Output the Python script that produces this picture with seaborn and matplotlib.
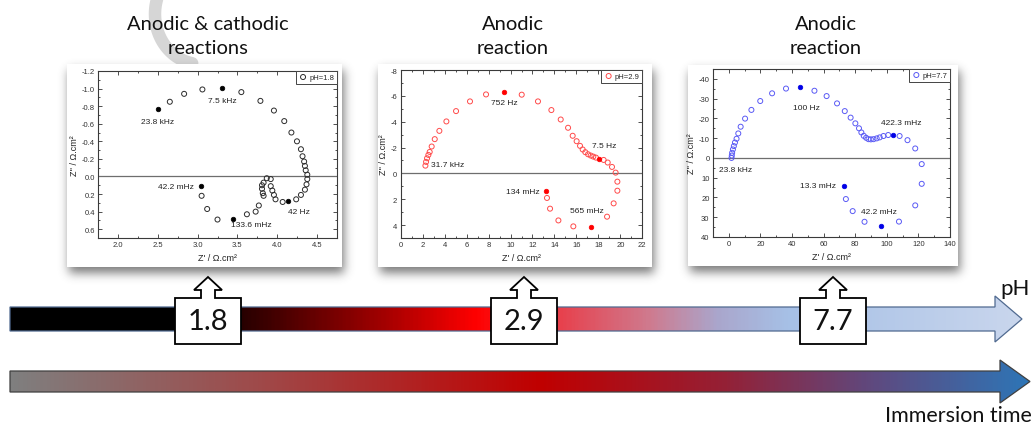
import numpy as np
import matplotlib.pyplot as plt
import seaborn as sns
from matplotlib.colors import LinearSegmentedColormap
from matplotlib.patches import Polygon, Rectangle
from matplotlib.ticker import MultipleLocator

sns.set_style("ticks")
plt.rcParams['font.family'] = ['Liberation Sans', 'DejaVu Sans']

#%%
# Data
titles = ["Anodic & cathodic\nreactions", "Anodic\nreaction", "Anodic\nreaction"]
ph_labels = ["1.8", "2.9", "7.7"]

# pH 1.8 - open symbols
ph18_re = [2.65, 2.83, 3.06, 3.55, 3.79, 3.96, 4.09, 4.18, 4.25, 4.30,
           4.32, 4.34, 4.35, 4.36, 4.38, 4.38, 4.37, 4.35, 4.30, 4.24,
           4.07, 3.98, 3.96, 3.94, 3.92, 3.92, 3.87, 3.83, 3.81, 3.81,
           3.82, 3.83, 3.77, 3.73, 3.62, 3.25, 3.12, 3.05]
ph18_im = [-0.85, -0.94, -0.99, -0.96, -0.86, -0.75, -0.63, -0.50, -0.40, -0.31,
           -0.23, -0.17, -0.12, -0.07, -0.02, 0.03, 0.09, 0.15, 0.21, 0.26,
           0.29, 0.26, 0.21, 0.16, 0.11, 0.03, 0.02, 0.07, 0.10, 0.14,
           0.19, 0.22, 0.33, 0.40, 0.43, 0.49, 0.37, 0.22]
# pH 1.8 - marked frequencies
ph18_mark_re = [2.50, 3.31, 4.14, 3.44, 3.04]
ph18_mark_im = [-0.77, -1.01, 0.28, 0.48, 0.11]
ph18_freq = ["23.8 kHz", "7.5 kHz", "42 Hz", "133.6 mHz", "42.2 mHz"]

# pH 2.9
ph29_re = [2.25, 2.31, 2.40, 2.52, 2.64, 2.82, 3.10, 3.52, 4.16, 5.04,
           6.31, 7.77, 11.02, 12.50, 13.72, 14.57, 15.24, 15.66, 16.02, 16.33,
           16.57, 16.81, 17.06, 17.30, 17.54, 17.78, 18.48, 18.85, 19.24, 19.57,
           19.73, 19.73, 19.39, 18.79, 15.72, 14.36, 13.60, 13.32]
ph29_im = [-0.60, -0.89, -1.17, -1.43, -1.66, -2.08, -2.65, -3.29, -4.02, -4.82,
           -5.57, -6.11, -6.09, -5.57, -4.90, -4.17, -3.53, -2.91, -2.49, -2.13,
           -1.85, -1.64, -1.48, -1.38, -1.30, -1.22, -1.04, -0.84, -0.50, -0.06,
           0.64, 1.34, 2.32, 3.35, 4.10, 3.64, 2.73, 1.90]
ph29_mark_re = [9.41, 18.09, 17.30, 13.26]
ph29_mark_im = [-6.27, -1.12, 4.18, 1.39]
ph29_freq = ["752 Hz", "7.5 Hz", "565 mHz", "134 mHz", "31.7 kHz"]

# pH 7.7
ph77_re = [1.7, 1.9, 2.1, 2.6, 3.2, 3.9, 4.9, 6.0, 7.5, 10.3,
           14.3, 19.9, 27.4, 36.2, 54.2, 61.9, 68.5, 73.4, 77.1, 80.1,
           82.4, 83.9, 85.4, 86.9, 88.4, 89.9, 91.6, 93.6, 95.5, 97.9,
           100.9, 108.1, 113.1, 118.0, 122.1, 122.1, 118.0, 107.7, 85.9, 78.4,
           74.1]
ph77_im = [0.0, -1.2, -2.6, -4.3, -6.0, -7.8, -9.7, -12.4, -15.8, -19.9,
           -24.3, -28.8, -32.7, -35.1, -34.0, -31.3, -27.6, -23.7, -20.4, -17.5,
           -15.0, -12.9, -11.2, -10.2, -9.5, -9.4, -9.5, -9.9, -10.4, -11.1,
           -11.6, -11.1, -9.0, -4.8, 3.1, 13.1, 24.0, 32.2, 32.3, 26.9,
           20.8]
ph77_mark_re = [45.0, 104.1, 96.1, 72.6]
ph77_mark_im = [-35.7, -11.6, 34.2, 14.0]
ph77_freq = ["100 Hz", "422.3 mHz", "42.2 mHz", "13.3 mHz", "23.8 kHz"]

#%%
# Layout of each panel (pixel boxes, axis ranges, label spots)
panels = [
    dict(re=ph18_re, im=ph18_im, mre=ph18_mark_re, mim=ph18_mark_im, freq=ph18_freq,
         box=(67, 65, 342, 268), ax=(98.3, 72, 336.7, 239),
         xlim=(1.75, 4.75), ylim=(0.7, -1.2), xmaj=0.5, xmin=0.25, ymaj=0.2, ymin=0.1,
         yfmt="{:.1f}", xfmt="{:.1f}", open_c="#2b2b2b", fill_c="#000000",
         spots=[(2.50, -0.625, "center"), (3.31, -0.86, "center"), (4.28, 0.40, "center"),
                (3.67, 0.55, "center"), (2.95, 0.11, "right")]),
    dict(re=ph29_re, im=ph29_im, mre=ph29_mark_re, mim=ph29_mark_im, freq=ph29_freq,
         box=(378, 65, 652, 268), ax=(400.7, 71, 642.3, 239),
         xlim=(0, 22), ylim=(5, -8), xmaj=2, xmin=1, ymaj=2, ymin=1,
         yfmt="{:.0f}", xfmt="{:.0f}", open_c="#ff4a4a", fill_c="#ff0000",
         spots=[(9.41, -5.49, "center"), (18.54, -2.13, "center"), (16.93, 2.91, "center"),
                (12.62, 1.44, "right"), (4.25, -0.66, "center")]),
    dict(re=ph77_re, im=ph77_im, mre=ph77_mark_re, mim=ph77_mark_im, freq=ph77_freq,
         box=(688, 66, 958, 267), ax=(713, 70, 950, 238),
         xlim=(-10, 140), ylim=(40, -45), xmaj=20, xmin=10, ymaj=10, ymin=5,
         yfmt="{:.0f}", xfmt="{:.0f}", open_c="#5a5af5", fill_c="#0000e6",
         spots=[(49.0, -25.5, "center"), (109.4, -17.7, "center"), (95.3, 27.1, "center"),
                (68.1, 14.0, "right"), (4.3, 5.8, "center")]),
]
title_x = [208, 513, 826]
callout_x = [208, 524, 833]

W, H = 1034, 431
fig = plt.figure(figsize=(W / 100, H / 100), dpi=100)
bg = fig.add_axes([0, 0, 1, 1])
bg.set_xlim(0, W)
bg.set_ylim(H, 0)
bg.axis("off")


def soft_shadow(x0, y0, x1, y1, dx=2, dy=6, sigma=5.0, alpha=0.65):
    pad = int(3 * sigma)
    w, h = int(x1 - x0), int(y1 - y0)
    mask = np.zeros((h + 2 * pad, w + 2 * pad))
    mask[pad:pad + h, pad:pad + w] = 1
    k = np.exp(-0.5 * (np.arange(-pad, pad + 1) / sigma) ** 2)
    k /= k.sum()
    mask = np.apply_along_axis(lambda r: np.convolve(r, k, mode="same"), 1, mask)
    mask = np.apply_along_axis(lambda c: np.convolve(c, k, mode="same"), 0, mask)
    rgba = np.zeros(mask.shape + (4,))
    rgba[..., :3] = 0.2
    rgba[..., 3] = mask * alpha
    bg.imshow(rgba, extent=(x0 - pad + dx, x1 + pad + dx, y1 + pad + dy, y0 - pad + dy),
              aspect="auto", zorder=1, interpolation="bilinear")


# faint grey arc left over from the slide
t = np.radians(np.linspace(100, 205, 60))
bg.plot(200 + 45 * np.cos(t), 15 + 50 * np.sin(t), color="#d6d6d6", lw=9,
        solid_capstyle="round", zorder=0.5)

for p, tx, title in zip(panels, title_x, titles):
    x0, y0, x1, y1 = p["box"]
    soft_shadow(x0, y0, x1, y1)
    bg.add_patch(Rectangle((x0, y0), x1 - x0, y1 - y0, fc="white", ec="none", zorder=1.5))
    bg.text(tx, 37, title, ha="center", va="center", fontsize=14.5, family="Lato",
            linespacing=1.5, color="#111111", zorder=3)

#%%
# The Nyquist plots
for i, p in enumerate(panels):
    ax_l, ax_t, ax_r, ax_b = p["ax"]
    ax = fig.add_axes([ax_l / W, 1 - ax_b / H, (ax_r - ax_l) / W, (ax_b - ax_t) / H])
    ax.set_facecolor("none")
    sns.scatterplot(x=p["re"], y=p["im"], ax=ax, marker="o", s=13, facecolor="none",
                    edgecolor=p["open_c"], linewidth=0.7, label="pH=" + ph_labels[i], zorder=3)
    sns.scatterplot(x=p["mre"], y=p["mim"], ax=ax, marker="o", s=11, color=p["fill_c"],
                    edgecolor=p["fill_c"], linewidth=0.5, zorder=4, legend=False)
    ax.axhline(0, color="#6e6e6e", lw=0.9, zorder=2)
    ax.set_xlim(*p["xlim"])
    ax.set_ylim(*p["ylim"])
    ax.xaxis.set_major_locator(MultipleLocator(p["xmaj"]))
    ax.xaxis.set_minor_locator(MultipleLocator(p["xmin"]))
    ax.yaxis.set_major_locator(MultipleLocator(p["ymaj"]))
    ax.yaxis.set_minor_locator(MultipleLocator(p["ymin"]))
    ax.tick_params(which="both", direction="in", top=True, right=True,
                   labelsize=5.5, labelcolor="#333333", color="#333333", width=0.6, pad=2.5)
    ax.tick_params(which="major", length=3)
    ax.tick_params(which="minor", length=1.5)
    ax.set_xticks(ax.get_xticks())
    ax.set_xticklabels([p["xfmt"].format(v) for v in ax.get_xticks()])
    ax.set_yticks(ax.get_yticks())
    ax.set_yticklabels([p["yfmt"].format(v) for v in ax.get_yticks()])
    ax.set_xlim(*p["xlim"])
    ax.set_ylim(*p["ylim"])
    for s in ax.spines.values():
        s.set_color("#3a3a3a")
        s.set_linewidth(0.8)
    ax.set_xlabel("Z' / Ω.cm²", fontsize=6.5, color="#222222", labelpad=3)
    ax.set_ylabel("Z'' / Ω.cm²", fontsize=6.5, color="#222222", labelpad=2)
    for lab, (lx, ly, ha) in zip(p["freq"], p["spots"]):
        ax.text(lx, ly, lab, ha=ha, va="center", fontsize=6, color="#222222", zorder=5)
    leg = ax.legend(loc="upper right", borderaxespad=0, fancybox=False, fontsize=5.5,
                    handletextpad=0.2, borderpad=0.35, handlelength=1.2, framealpha=1)
    leg.get_frame().set_edgecolor("#444444")
    leg.get_frame().set_linewidth(0.7)

#%%
# Bottom arrows: pH scale and immersion time


def grad_arrow(x0, xh, xt, y0, y1, hy0, hy1, stops, ec):
    verts = [(x0, y0), (xh, y0), (xh, hy0), (xt, (y0 + y1) / 2), (xh, hy1), (xh, y1), (x0, y1)]
    poly = Polygon(verts, closed=True, fc="none", ec=ec, lw=0.9, zorder=3)
    bg.add_patch(poly)
    cmap = LinearSegmentedColormap.from_list("bar", stops)
    im = bg.imshow(np.linspace(0, 1, 600)[None, :], cmap=cmap, extent=(x0, xt, hy1, hy0),
                   aspect="auto", zorder=2, interpolation="bilinear")
    im.set_clip_path(poly)


ph_stops = [(0.0, "#000000"), (0.168, "#000000"), (0.232, "#2b0000"), (0.366, "#a00000"),
            (0.46, "#ff0000"), (0.543, "#e8404c"), (0.632, "#cf7a8e"), (0.70, "#aaa6cc"),
            (0.77, "#a6c0e6"), (1.0, "#c9d6ed")]
time_stops = [(0.0, "#7f7f7f"), (0.25, "#a04848"), (0.52, "#c00000"), (0.7, "#952035"),
              (0.85, "#5e4a80"), (1.0, "#2e75b6")]
grad_arrow(10, 995, 1022, 308, 332, 297, 343, ph_stops, "#506a90")
grad_arrow(10, 1000, 1030, 372, 393, 361, 404, time_stops, "#404040")

bg.text(1030, 289, "pH", ha="right", va="center", fontsize=16, family="Lato", color="#111111")
bg.text(1032, 416, "Immersion time", ha="right", va="center", fontsize=15.5, family="Lato",
        color="#111111")

# up-arrow callouts holding the pH values
for cx, lab in zip(callout_x, ph_labels):
    yt, yb, hw = 299, 345, 33
    verts = [(cx - hw, yb), (cx - hw, yt), (cx - 7, yt), (cx - 7, 291), (cx - 14, 291),
             (cx, 278), (cx + 14, 291), (cx + 7, 291), (cx + 7, yt), (cx + hw, yt), (cx + hw, yb)]
    bg.add_patch(Polygon(verts, closed=True, fc="white", ec="black", lw=1.3, zorder=4))
    bg.text(cx, 322, lab, ha="center", va="center", fontsize=21, family="Lato",
            color="#111111", zorder=5)

fig.savefig("out.png", dpi=100)
